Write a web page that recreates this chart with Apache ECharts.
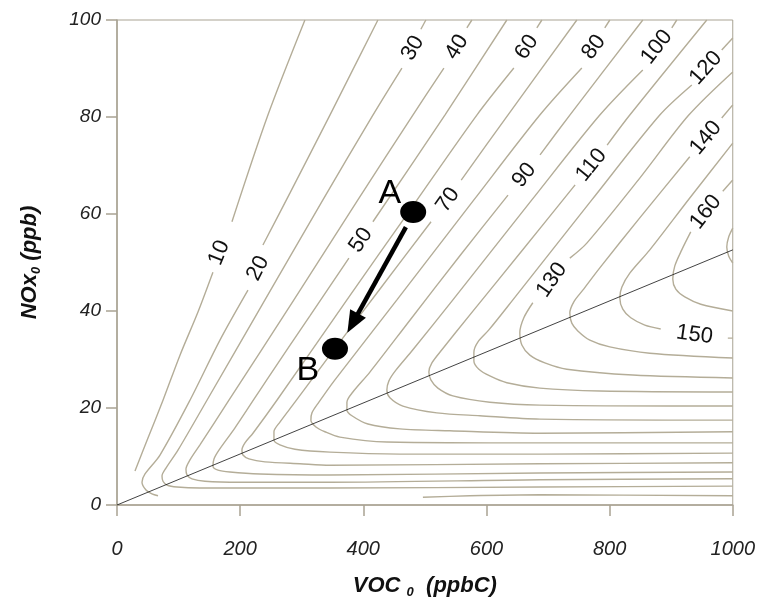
<!DOCTYPE html>
<html><head><meta charset="utf-8">
<script src="https://cdn.jsdelivr.net/npm/echarts@6/dist/echarts.min.js"></script>
<style>html,body{margin:0;padding:0;background:#fff}#c{width:758px;height:605px}</style>
</head><body><div id="c"></div>
<script>
const xTicks = [0, 200, 400, 600, 800, 1000];
const yTicks = [0, 20, 40, 60, 80, 100];

// Ozone isopleths (ppb), each as list of segments of [VOC0, NOx0] points
const iso10 = [
 [[305.2,100],[245.1,80.4],[186.7,58.4]],
 [[155.8,48.0],[131.5,39.8],[102.3,30.9],[74.7,21.6],[50.3,13.8],[29.2,7.0]]
];
const iso20 = [
 [[423.7,100],[345.8,80.4],[280.8,64.3],[237.0,53.6]],
 [[212.7,44.3],[167.2,34.0],[118.5,21.6],[69.8,10.3],[45.5,6.4],[40.6,4.7],[47.1,3.1],[56.8,2.3],[66.6,1.9]],
 [[496.8,1.6],[573.1,1.9],[686.7,2.1],[1000,1.9]]
];
const iso30 = [
 [[501.6,100],[493.5,98.1]],
 [[462.7,90.1],[415.6,80.4],[334.4,62.9],[240.3,42.3],[146.1,21.6],[99.0,11.3],[79.5,7.6],[73.1,6.0],[74.7,4.9],[81.2,4.1],[97.4,3.7],[134.7,3.5],[215.9,3.5],[345.8,3.5],[686.7,3.7],[1000,3.9]]
];
const iso40 = [
 [[576.3,100],[568.2,98.4]],
 [[530.9,90.1],[480.5,80.4],[391.2,62.9],[287.3,42.3],[181.8,21.6],[134.7,12.4],[118.5,9.3],[112.0,7.4],[113.6,6.2],[121.8,5.4],[142.9,4.9],[199.7,4.7],[345.8,4.7],[686.7,5.2],[1000,5.4]]
];
const iso50 = [
 [[633.1,100],[532.5,80.4],[415.6,58.4]],
 [[376.6,50.9],[313.3,39.0],[248.4,26.8],[191.6,15.9],[165.6,11.3],[157.5,9.5],[155.8,8.0],[164.0,7.2],[183.4,6.8],[232.1,6.4],[345.8,6.2],[686.7,6.6],[1000,6.8]]
];
const iso60 = [
 [[690.0,100],[681.8,98.4]],
 [[644.5,90.1],[584.4,80.4],[472.4,60.2],[373.4,42.3],[259.7,21.6],[220.8,14.8],[207.8,12.8],[202.9,11.3],[204.5,10.3],[214.3,9.5],[240.3,8.9],[297.1,8.5],[345.8,8.2],[686.7,8.5],[1000,8.7]]
];
const iso70 = [
 [[746.8,100],[634.8,80.4],[559.0,67.0]],
 [[510.0,58.4],[428.0,44.7],[345.8,30.9],[289.0,21.2],[264.6,17.1],[254.9,15.1],[254.9,13.4],[264.6,12.4],[289.0,11.5],[345.8,10.9],[459.4,10.5],[686.7,10.5],[1000,10.7]]
];
const iso80 = [
 [[800.3,100],[792.2,98.4]],
 [[754.9,90.1],[686.7,80.4],[579.6,62.9],[454.6,42.3],[353.9,25.8],[327.9,21.2],[316.6,19.0],[314.9,17.5],[323.1,16.1],[337.7,15.1],[362.0,14.0],[438.3,13.0],[686.7,12.8],[1000,12.8]]
];
const iso90 = [
 [[853.9,100],[735.4,80.4],[687.0,72.2]],
 [[635.0,63.9],[557.5,51.5],[475.7,38.1],[410.7,27.4],[383.1,23.3],[373.4,21.2],[373.4,19.6],[381.5,18.4],[407.5,16.7],[459.4,15.7],[540.6,15.3],[686.7,14.8],[1000,15.1]]
];
const iso100 = [
 [[909.1,100],[901.0,98.4]],
 [[853.9,89.7],[784.1,80.4],[673.7,62.9],[545.5,42.3],[480.5,32.0],[452.9,27.8],[441.6,25.6],[438.3,23.7],[443.2,22.1],[464.3,20.4],[519.5,19.0],[589.3,18.4],[686.7,17.7],[1000,17.5]]
];
const iso110 = [
 [[957.8,100],[832.8,80.4],[796.0,74.2]],
 [[744.0,66.0],[655.0,52.0],[573.1,39.2],[527.6,32.0],[511.4,29.3],[506.5,27.4],[509.7,25.8],[521.1,24.1],[545.5,22.5],[605.5,21.2],[686.7,20.6],[1000,20.4]]
];
const iso120 = [
 [[1000,96.3],[982.1,93.8]],
 [[933.5,86.6],[881.5,80.4],[771.1,62.9],[642.9,42.3],[603.9,36.1],[586.0,33.6],[579.6,31.5],[579.6,29.7],[587.7,28.0],[605.5,26.6],[633.1,25.2],[686.7,24.1],[784.1,23.5],[1000,23.3]]
];
const iso130 = [
 [[1000,89.3],[928.6,80.4],[849.0,67.4],[763.0,54.0],[735.4,50.9]],
 [[675.3,41.7],[660.7,38.6],[654.2,35.5],[657.5,33.0],[670.5,30.9],[694.8,29.3],[730.5,28.0],[837.7,26.8],[1000,26.2]]
];
const iso140 = [
 [[1000,82.5],[982.1,79.8]],
 [[930.2,71.8],[849.0,59.2],[784.1,48.9],[756.5,44.3],[741.9,41.9],[735.4,39.6],[738.6,37.5],[748.4,35.9],[767.9,34.0],[800.3,32.6],[865.3,31.3],[1000,30.3]]
];
const iso150 = [
 [[1000,74.6],[930.2,63.3],[865.3,52.6],[832.8,47.8],[819.8,44.9],[816.6,42.7],[821.4,40.4],[834.4,38.6],[857.2,37.1],[883.0,36.3]],
 [[992.0,34.4],[1000,34.4]]
];
const iso160 = [
 [[1000,67.0],[983.8,64.7]],
 [[931.8,56.3],[917.2,52.6],[905.9,49.3],[902.6,46.6],[907.5,44.5],[922.1,42.9],[948.1,41.4],[1000,40.0]]
];
const iso170 = [
 [[1000,57.1],[993.5,55.3],[990.3,53.2],[993.5,51.3],[1000,49.9]]
];

const isoLabelText = ['10','20','30','40','50','60','70','80','90','100','110','120','130','140','150','160'];
const isoLabelPos = [[166.0,52.0],[229.0,48.8],[480.5,94.2],[552.0,94.4],[396.1,54.6],[665.6,94.4],[537.5,62.9],[774.4,94.4],[661.5,68.0],[876.6,94.4],[770.5,70.1],[956.2,90.1],[706.2,46.4],[956.2,75.7],[938.0,35.1],[956.2,60.4]];
const isoLabelAngle = [68,63,60,58,56,56,54,54,52,52,51,48,55,50,-8,52];

const ridgeLine = [[0,0],[1000,52.6]];
const pointNames = ['A','B'];
const pointValues = [[481,60.4],[354,32.2]];
const pointLabelPos = [[442.9,64.3],[310.1,27.8]];
const arrowFrom = [469.2,57.3];
const arrowTo = [382.8,37.5];

const contourColor = '#b4ad98';
const axisColor = '#a9a393';
const allIso = [iso10,iso20,iso30,iso40,iso50,iso60,iso70,iso80,iso90,iso100,iso110,iso120,iso130,iso140,iso150,iso160,iso170];

const series = [];
allIso.forEach(iso => iso.forEach(seg => {
  series.push({type:'line', data:seg, showSymbol:false, symbol:'none', smooth:0.3, silent:true,
    lineStyle:{color:contourColor, width:1.4}, z:2});
}));
series.push({type:'line', data:ridgeLine, showSymbol:false, symbol:'none', silent:true,
  lineStyle:{color:'#111', width:0.8}, z:3});
series.push({type:'scatter', silent:true, symbolSize:1, itemStyle:{color:'rgba(0,0,0,0)', opacity:1}, z:5,
  data: isoLabelText.map((t,i)=>({value:isoLabelPos[i], label:{show:true, position:'inside', formatter:t, rotate:isoLabelAngle[i],
    fontSize:22, fontFamily:'Liberation Sans', color:'#111', opacity:1}}))});
series.push({type:'scatter', silent:true, symbol:'circle', symbolSize:[26,22], itemStyle:{color:'#000', opacity:1}, z:6,
  data: pointValues,
  markLine:{silent:true, symbol:['none','triangle'], symbolSize:[18,22], animation:false,
    label:{show:false}, lineStyle:{color:'#000', width:4.5, type:'solid', opacity:1},
    data:[[{coord:arrowFrom},{coord:arrowTo}]]}});
series.push({type:'scatter', silent:true, symbolSize:1, itemStyle:{color:'rgba(0,0,0,0)', opacity:1}, z:6,
  data: pointNames.map((n,i)=>({value:pointLabelPos[i], label:{show:true, position:'inside', formatter:n,
    fontSize:34, fontFamily:'Liberation Sans', color:'#000', opacity:1}}))});

const nameRich = {
  b:{fontSize:22, fontWeight:'bold', fontStyle:'italic', fontFamily:'Liberation Sans', color:'#111', lineHeight:26},
  s:{fontSize:13, fontWeight:'bold', fontStyle:'italic', fontFamily:'Liberation Sans', color:'#111', lineHeight:13, verticalAlign:'bottom'}
};

const chart = echarts.init(document.getElementById('c'), null, {renderer:'canvas'});
chart.setOption({
  animation:false,
  grid:{left:117, right:25, top:20, bottom:100, show:true, borderColor:axisColor, borderWidth:1},
  xAxis:{type:'value', min:xTicks[0], max:xTicks[xTicks.length-1], interval:200,
    axisLine:{show:true, lineStyle:{color:axisColor, width:1.5}},
    axisTick:{show:true, length:11, lineStyle:{color:axisColor, width:1.5}},
    splitLine:{show:false},
    axisLabel:{margin:34, fontSize:20, fontStyle:'italic', fontFamily:'Liberation Sans', color:'#222', formatter:v=>String(v)},
    name:'{b|VOC }{s|0}{b|  (ppbC)}', nameLocation:'middle', nameGap:68, nameTextStyle:{rich:nameRich}},
  yAxis:{type:'value', min:yTicks[0], max:yTicks[yTicks.length-1], interval:20,
    axisLine:{show:true, lineStyle:{color:axisColor, width:1.5}},
    axisTick:{show:true, length:11, lineStyle:{color:axisColor, width:1.5}},
    splitLine:{show:false},
    axisLabel:{margin:16, fontSize:19, fontStyle:'italic', fontFamily:'Liberation Sans', color:'#222', formatter:v=>String(v)},
    name:'{b|NOx}{s|0}{b| (ppb)}', nameLocation:'middle', nameRotate:90, nameGap:74, nameTextStyle:{rich:nameRich}},
  series: series
});
</script></body></html>
